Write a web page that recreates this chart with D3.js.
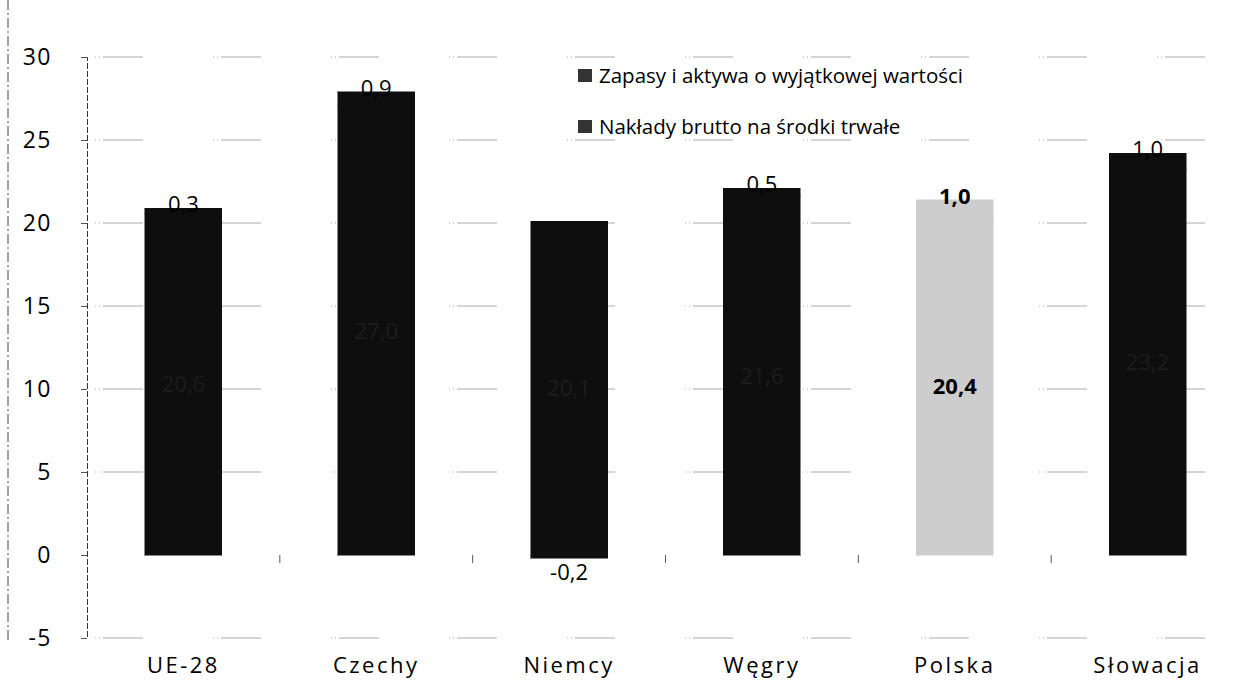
<!DOCTYPE html>
<html><head><meta charset="utf-8">
<script src="https://cdn.jsdelivr.net/npm/d3@7"></script>
<style>body{margin:0;background:#fff}svg{display:block}</style>
</head><body><svg id="c" width="1259" height="690"></svg>
<script>
const categories = ["UE-28","Czechy","Niemcy","Węgry","Polska","Słowacja"];
const gfcf = [20.6, 27.0, 20.1, 21.6, 20.4, 23.2];      // Nakłady brutto na środki trwałe
const inventories = [0.3, 0.9, -0.2, 0.5, 1.0, 1.0];    // Zapasy i aktywa o wyjątkowej wartości
const seriesNames = ["Zapasy i aktywa o wyjątkowej wartości","Nakłady brutto na środki trwałe"];
const yTicks = [-5,0,5,10,15,20,25,30];

const svg = d3.select("#c");
const font = "'Open Sans', sans-serif";
const x = d3.scaleBand().domain(categories).range([87,1244]).paddingInner(0.6).paddingOuter(0.3);
const y = d3.scaleLinear().domain([-5,30]).range([638,57]);
const fmt = v => d3.format(".1f")(v).replace(".",",").replace("−","-");

// gridlines
svg.append("g").selectAll("line").data(yTicks.filter(t=>t!==0)).join("line")
  .attr("x1",95).attr("x2",1244).attr("y1",d=>y(d)).attr("y2",d=>y(d))
  .attr("stroke","#aaa").attr("stroke-width",1).attr("stroke-dasharray","1,3,1,3,40,70");

// y axis
const ax = svg.append("g").attr("transform","translate(87,0)")
  .call(d3.axisLeft(y).tickValues(yTicks).tickSize(6).tickPadding(29).tickFormat(d=>d<0?"-"+Math.abs(d):d));
ax.select(".domain").attr("stroke","#333").attr("stroke-dasharray","6,2");
ax.selectAll(".tick line").attr("stroke","#555");
ax.selectAll("text").attr("font-family",font).attr("font-size",23).attr("letter-spacing",1.5).attr("fill","#000");
// left border
svg.append("line").attr("x1",8).attr("x2",8).attr("y1",0).attr("y2",640)
  .attr("stroke","#444").attr("stroke-dasharray","10,3,2,3");

// category boundary ticks at zero
const bounds = categories.slice(1).map(c => x(c) - x.step()*x.paddingInner()/2);
svg.append("g").selectAll("line").data(bounds).join("line")
  .attr("x1",d=>d).attr("x2",d=>d).attr("y1",y(0)).attr("y2",y(0)+8).attr("stroke","#555");

// bars
const dark = "#0e0e0e", light = "#cdcdcd";
const colorFor = c => c==="Polska" ? light : dark;
const g = svg.append("g").attr("shape-rendering","crispEdges");
g.selectAll("rect.g").data(categories).join("rect")
  .attr("x",c=>x(c)).attr("width",x.bandwidth())
  .attr("y",(c,i)=>y(gfcf[i])).attr("height",(c,i)=>y(0)-y(gfcf[i]))
  .attr("fill",colorFor).attr("stroke",colorFor).attr("stroke-width",0.5);
g.selectAll("rect.z").data(categories).join("rect")
  .attr("x",c=>x(c)).attr("width",x.bandwidth())
  .attr("y",(c,i)=> inventories[i]>=0 ? y(gfcf[i]+inventories[i]) : y(0))
  .attr("height",(c,i)=> Math.abs(y(0)-y(inventories[i])) )
  .attr("fill",colorFor).attr("stroke",colorFor).attr("stroke-width",0.5);

const t = svg.append("g");
// inside labels
t.selectAll("text.in").data(categories).join("text")
  .attr("x",c=>x(c)+x.bandwidth()/2).attr("y",(c,i)=>y(gfcf[i]/2)+8)
  .attr("text-anchor","middle").attr("font-family",font).attr("font-size",22)
  .attr("font-weight",c=>c==="Polska"?"bold":"normal")
  .attr("fill",c=>c==="Polska"?"#000":"#1d1d1d")
  .text((c,i)=>fmt(gfcf[i]));
// top labels
t.selectAll("text.top").data(categories).join("text")
  .attr("x",c=>x(c)+x.bandwidth()/2)
  .attr("y",(c,i)=> inventories[i]>=0 ? y(gfcf[i]+inventories[i])+4 : y(inventories[i])+22)
  .attr("text-anchor","middle").attr("font-family",font).attr("font-size",22)
  .attr("font-weight",c=>c==="Polska"?"bold":"normal").attr("fill","#000")
  .text((c,i)=>fmt(inventories[i]));

// x labels
svg.append("g").selectAll("text").data(categories).join("text")
  .attr("x",c=>x(c)+x.bandwidth()/2).attr("y",673).attr("text-anchor","middle")
  .attr("font-family",font).attr("font-size",22).attr("letter-spacing",2.5).attr("fill","#000").text(c=>c);

// legend
const lg = svg.append("g").selectAll("g").data(seriesNames).join("g")
  .attr("transform",(d,i)=>`translate(578,${83+i*51})`);
lg.append("rect").attr("x",0).attr("y",-14).attr("width",14).attr("height",13).attr("fill","#333");
lg.append("text").attr("x",21).attr("y",0).attr("font-family",font).attr("font-size",20.5)
  .attr("fill","#000").text(d=>d);
</script></body></html>
